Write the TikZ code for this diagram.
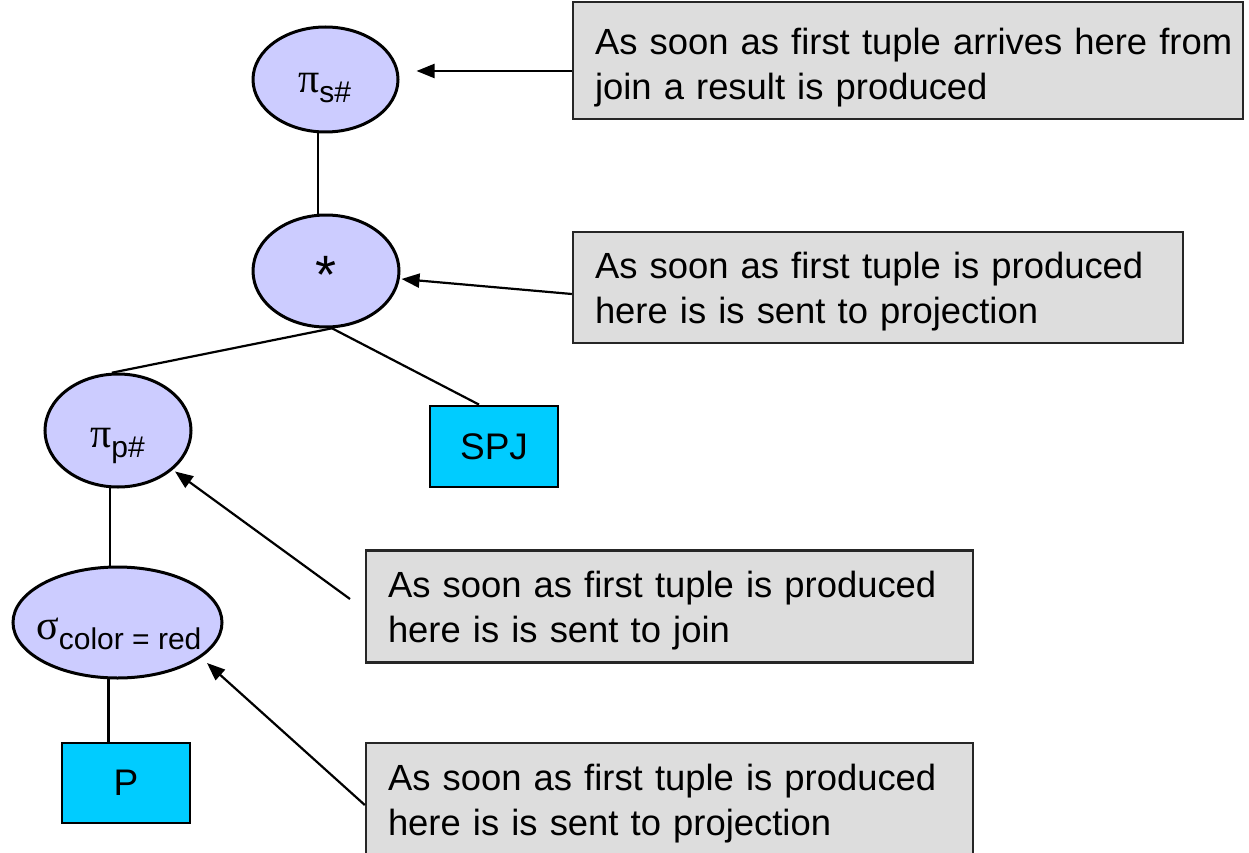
\documentclass[tikz,border=0pt]{standalone}
\usepackage{fontspec}
\setmainfont{Liberation Sans}
\newfontfamily\grk{Liberation Serif}
\usetikzlibrary{arrows.meta,shapes.geometric}
\definecolor{lav}{HTML}{CCCCFF}
\definecolor{cy}{HTML}{00CCFF}
\definecolor{gb}{HTML}{DDDDDD}
\newcommand{\subtxt}[1]{\raisebox{-10pt}{\fontsize{30}{30}\selectfont #1}}
\newcommand{\gsym}[1]{{\grk\fontsize{42}{42}\selectfont #1}}
\begin{document}
\begin{tikzpicture}[x=1pt,y=-1pt,
  op/.style={ellipse,draw=black,line width=3pt,fill=lav,inner sep=0pt},
  rel/.style={rectangle,draw=black,line width=2.8pt,fill=cy,inner sep=0pt,
    font=\fontsize{37}{44}\selectfont},
  note/.style={rectangle,draw=black!85,line width=2.4pt,fill=gb,align=left,
    inner xsep=22pt,inner ysep=0pt,font=\fontsize{36.4}{45}\selectfont},
  lbl/.style={inner sep=0pt,font=\fontsize{37}{37}\selectfont},
  edge/.style={line width=2.2pt},
  arr/.style={line width=2.2pt,-{Triangle[length=18pt,width=14pt]}}]
\useasboundingbox (0,0) rectangle (1249,853);

% operator ellipses
\node[op,minimum width=145pt,minimum height=105pt] (ps) at (325.5,79.5) {};
\node[op,minimum width=146pt,minimum height=112pt] (star) at (326,271) {};
\node[op,minimum width=146pt,minimum height=113pt] (pp) at (118,430.5) {};
\node[op,minimum width=209pt,minimum height=111pt] (sig) at (117.5,622.5) {};

\node[lbl,anchor=base west] (pst) at (298,93) {\gsym{π}\subtxt{s\#}};
\node[lbl,anchor=base,font=\fontsize{54}{54}\selectfont] (start) at (326,293) {*};
\node[lbl,anchor=base west] (ppt) at (90,447) {\gsym{π}\subtxt{p\#}};
\node[lbl,anchor=base west] (sigt) at (36,639) {\gsym{σ}\subtxt{color = red}};

% relations
\node[rel,minimum width=128pt,minimum height=81pt] (spj) at (494,446.5) {SPJ};
\node[rel,minimum width=128pt,minimum height=80pt] (P) at (126,783) {P};

% tree edges
\draw[edge] (ps.262) -- (ps.262 |- star.north);
\draw[edge] (star.276) -- (pp.96);
\draw[edge] (star.276) -- ([xshift=-15pt]spj.north);
\draw[edge] (pp.262) -- (pp.262 |- sig.north);
\draw[edge] (sig.261) -- (sig.261 |- P.north);

% notes
\node[note,text width=626pt,minimum height=117pt] (b1) at (908,60.5)
  {\rule{0pt}{40pt}\mbox{As soon as first tuple arrives here from}\\join a result is produced};
\node[note,text width=566pt,minimum height=111pt] (b2) at (878,287.5)
  {\rule{0pt}{35pt}As soon as first tuple is produced\\here is is sent to projection};
\node[note,text width=563pt,minimum height=112pt] (b3) at (669.5,606.5)
  {\rule{0pt}{35pt}As soon as first tuple is produced\\here is is sent to join};
\node[note,text width=563pt,minimum height=112pt] (b4) at (669.5,799)
  {\rule{0pt}{35pt}As soon as first tuple is produced\\here is is sent to projection};

\coordinate (a3s) at (350,599);

% arrows
\draw[arr] ([yshift=-10.5pt]b1.west) -- ([shift={(17,-8.5)}]ps.east);
\draw[arr] ([yshift=-6.5pt]b2.west) -- ([shift={(1,8)}]star.east);
\draw[arr] (a3s) -- ([shift={(57,41)}]pp.center);
\draw[arr] ([yshift=-6pt]b4.west) -- ([shift={(89.5,40.5)}]sig.center);
\end{tikzpicture}
\end{document}
